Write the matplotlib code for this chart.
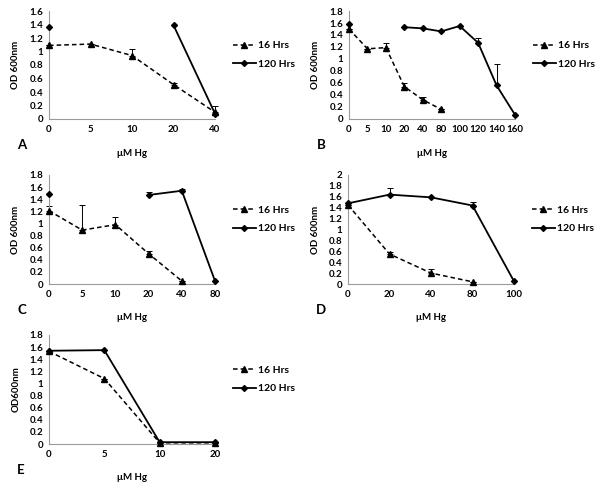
import numpy as np
import matplotlib
matplotlib.use("Agg")
import matplotlib.pyplot as plt

nan = np.nan

# 面板 A
a_cats = ['0', '5', '10', '20', '40']
a_16 = [1.09, 1.11, 0.94, 0.51, 0.10]
a_16_err = [0, 0, 0.09, 0.03, 0.10]
a_120 = [1.37, nan, nan, 1.39, 0.08]
a_120_err = [0, 0, 0, 0, 0]

# 面板 B
b_cats = ['0', '5', '10', '20', '40', '80', '100', '120', '140', '160']
b_16 = [1.50, 1.17, 1.19, 0.54, 0.32, 0.16, nan, nan, nan, nan]
b_16_err = [0, 0, 0.07, 0.06, 0.04, 0, 0, 0, 0, 0]
b_120 = [1.58, nan, nan, 1.53, 1.51, 1.46, 1.55, 1.27, 0.56, 0.07]
b_120_err = [0, 0, 0, 0, 0, 0, 0, 0.08, 0.36, 0]

# 面板 C
c_cats = ['0', '5', '10', '20', '40', '80']
c_16 = [1.21, 0.89, 0.98, 0.50, 0.05, nan]
c_16_err = [0.08, 0.42, 0.12, 0.04, 0, 0]
c_120 = [1.49, nan, nan, 1.47, 1.54, 0.05]
c_120_err = [0, 0, 0, 0.05, 0.03, 0]

# 面板 D
d_cats = ['0', '20', '40', '80', '100']
d_16 = [1.45, 0.55, 0.20, 0.04, nan]
d_16_err = [0, 0.04, 0.08, 0, 0]
d_120 = [1.48, 1.64, 1.59, 1.44, 0.05]
d_120_err = [0, 0.12, 0, 0.06, 0]

# 面板 E
e_cats = ['0', '5', '10', '20']
e_16 = [1.53, 1.08, 0.02, 0.02]
e_16_err = [0, 0, 0, 0]
e_120 = [1.54, 1.55, 0.03, 0.03]
e_120_err = [0, 0, 0, 0]

plt.rcParams['font.family'] = ['Lato', 'DejaVu Sans']

fig = plt.figure(figsize=(6, 4.93), dpi=100)

W, H = 600.0, 493.0

panels = [
    # 字母, 类别, 16, 16误差, 120, 120误差, 左, 上, 下, ymax, ystep, ylabel
    ('A', a_cats, a_16, a_16_err, a_120, a_120_err, 49, 11, 119, 1.6, 0.2, 'OD 600nm'),
    ('B', b_cats, b_16, b_16_err, b_120, b_120_err, 349, 11, 119, 1.8, 0.2, 'OD 600nm'),
    ('C', c_cats, c_16, c_16_err, c_120, c_120_err, 49, 175, 284, 1.8, 0.2, 'OD 600nm'),
    ('D', d_cats, d_16, d_16_err, d_120, d_120_err, 348, 175, 284, 2.0, 0.2, 'OD 600nm'),
    ('E', e_cats, e_16, e_16_err, e_120, e_120_err, 49, 335, 444, 1.8, 0.2, 'OD600nm'),
]


def fmt(v):
    s = ('%.1f' % v).rstrip('0').rstrip('.')
    return s


for (letter, cats, y16, e16, y120, e120, left, top, bottom, ymax, ystep, ylab) in panels:
    width = 166
    ax = fig.add_axes([left / W, 1 - bottom / H, width / W, (bottom - top) / H])
    x = np.arange(len(cats))
    y16 = np.array(y16)
    y120 = np.array(y120)

    l1, = ax.plot(x, y16, ls=(0, (3, 2)), color='black', lw=1.1, marker='^', ms=4,
                  clip_on=False, zorder=3, label='16 Hrs')
    l2, = ax.plot(x, y120, ls='-', color='black', lw=1.3, marker='D', ms=3,
                  clip_on=False, zorder=3, label='120 Hrs')
    ax.errorbar(x, y16, yerr=[np.zeros(len(x)), e16], fmt='none', ecolor='black',
                elinewidth=0.7, capsize=2.5, capthick=0.7, clip_on=False)
    ax.errorbar(x, y120, yerr=[np.zeros(len(x)), e120], fmt='none', ecolor='black',
                elinewidth=0.7, capsize=2.5, capthick=0.7, clip_on=False)

    ax.set_xlim(0, len(cats) - 1)
    ax.set_ylim(0, ymax)
    ax.set_xticks(x)
    ax.set_xticklabels(cats)
    yt = np.arange(0, ymax + 1e-6, ystep)
    ax.set_yticks(yt)
    ax.set_yticklabels([fmt(v) for v in yt])
    ax.tick_params(length=0, labelsize=7, pad=4)
    for lab in ax.get_xticklabels() + ax.get_yticklabels():
        lab.set_fontweight('bold')
    ax.spines['top'].set_visible(False)
    ax.spines['right'].set_visible(False)
    ax.spines['left'].set_color('#9a9a9a')
    ax.spines['bottom'].set_color('#9a9a9a')

    # 图例
    mid = (top + bottom) / 2.0 - 10
    ax.legend(handles=[l1, l2], loc='center left',
              bbox_to_anchor=((left + 184) / W, 1 - mid / H),
              bbox_transform=fig.transFigure, frameon=False,
              prop={'weight': 'bold', 'size': 7.5},
              handlelength=2.2, handletextpad=0.2, labelspacing=0.9,
              borderpad=0, borderaxespad=0)

    # 标签
    fig.text((left - 32) / W, 1 - (bottom + 26) / H, letter, fontsize=9.5,
             fontweight='bold', ha='left', va='center')
    fig.text((left + width / 2) / W, 1 - (bottom + 34) / H, 'μM Hg', fontsize=7,
             fontweight='bold', ha='center', va='center')
    fig.text((left - 33) / W, 1 - (top + bottom) / 2 / H, ylab, fontsize=7,
             fontweight='bold', rotation=90, ha='center', va='center')

fig.savefig('out.png', dpi=100)
